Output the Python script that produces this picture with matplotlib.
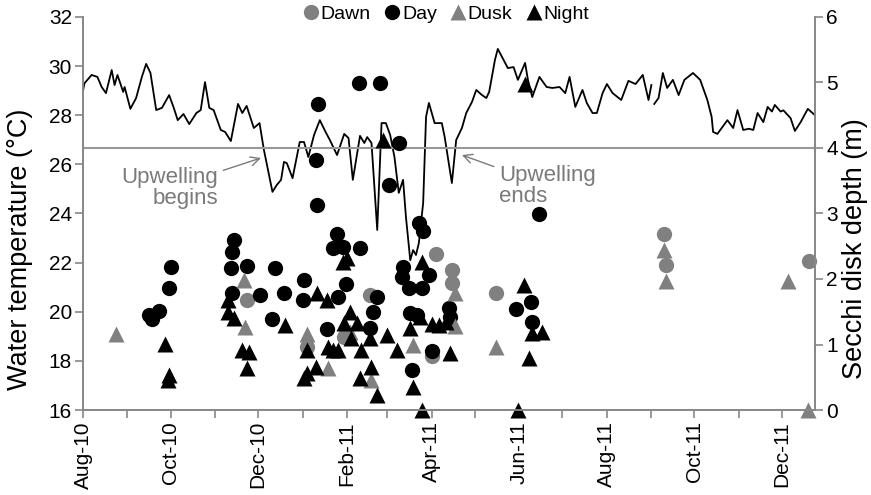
import numpy as np
import pandas as pd
import matplotlib
matplotlib.use("Agg")
import matplotlib.pyplot as plt
import matplotlib.dates as mdates

plt.rcParams['font.family'] = ['Liberation Sans', 'DejaVu Sans']

# daily water temperature, None = gap in record
temp_dates = ['2010-08-01', '2010-08-02', '2010-08-07', '2010-08-11', '2010-08-14', '2010-08-17',
              '2010-08-21', '2010-08-23', '2010-08-25', '2010-08-29', '2010-08-30', '2010-09-03',
              '2010-09-07', '2010-09-11', '2010-09-14', '2010-09-17', '2010-09-21', '2010-09-25',
              '2010-09-30', '2010-10-03', '2010-10-06', '2010-10-10', '2010-10-14', '2010-10-19',
              '2010-10-22', '2010-10-25', '2010-10-28', '2010-10-31', '2010-11-05', '2010-11-08',
              '2010-11-12', '2010-11-17', '2010-11-20', '2010-11-23', '2010-11-28', '2010-12-02',
              '2010-12-05', '2010-12-11', '2010-12-14', '2010-12-17', '2010-12-19', '2010-12-21',
              '2010-12-25', '2010-12-30', '2011-01-02', '2011-01-05', '2011-01-09', '2011-01-13',
              '2011-01-17', '2011-01-20', '2011-01-25', '2011-01-30', '2011-02-02', '2011-02-05',
              '2011-02-10', '2011-02-13', '2011-02-15', '2011-02-18', '2011-02-22', '2011-02-25',
              '2011-02-28', '2011-03-03', '2011-03-06', '2011-03-09', '2011-03-12', '2011-03-14',
              '2011-03-17', '2011-03-19', '2011-03-21', '2011-03-23', '2011-03-26', '2011-03-28',
              '2011-03-30', '2011-04-03', '2011-04-08', '2011-04-10', '2011-04-15', '2011-04-18',
              '2011-04-22', '2011-04-25', '2011-04-29', '2011-05-02', '2011-05-06', '2011-05-09',
              '2011-05-11', '2011-05-15', '2011-05-17', '2011-05-24', '2011-05-28', '2011-05-31',
              '2011-06-05', '2011-06-07', '2011-06-10', '2011-06-15', '2011-06-20', '2011-06-24',
              '2011-06-29', '2011-07-03', '2011-07-06', '2011-07-10', '2011-07-15', '2011-07-18',
              '2011-07-22', '2011-07-25', '2011-07-29', '2011-08-01', '2011-08-05', '2011-08-11',
              '2011-08-16', '2011-08-21', '2011-08-26', '2011-08-30', '2011-09-01', '2011-09-02',
              '2011-09-03', '2011-09-06', '2011-09-09', '2011-09-12', '2011-09-16', '2011-09-20',
              '2011-09-24', '2011-09-30', '2011-10-05', '2011-10-10', '2011-10-13', '2011-10-14',
              '2011-10-17', '2011-10-20', '2011-10-24', '2011-10-28', '2011-10-31', '2011-11-04',
              '2011-11-08', '2011-11-11', '2011-11-14', '2011-11-18', '2011-11-21', '2011-11-24',
              '2011-11-26', '2011-11-30', '2011-12-02', '2011-12-07', '2011-12-10', '2011-12-14',
              '2011-12-19', '2011-12-24']
temp_vals = [29.0, 29.3, 29.64, 29.56, 29.15, 28.9,
             29.84, 29.23, 29.64, 28.95, 29.15, 28.26,
             28.7, 29.56, 30.09, 29.72, 28.21, 28.3,
             28.82, 28.34, 27.8, 28.05, 27.64, 28.09,
             28.21, 29.35, 28.3, 28.21, 27.4, 27.32,
             26.95, 28.46, 28.09, 28.38, 27.48, 27.68,
             26.6, 24.88, 25.16, 25.37, 26.1, 26.05,
             25.44, 26.91, 26.91, 26.3, 27.2, 27.8,
             27.32, 26.99, 26.38, 27.24, 27.07, 25.37,
             27.16, 26.87, 27.11, 26.87, 23.33, 27.68,
             27.68, 27.2, 26.3, 24.84, 25.37, 23.86,
             22.1, 22.51, 22.31, 22.8, 24.43, 27.93,
             28.5, 27.68, 27.68, 27.11, 25.24, 26.99,
             27.48, 28.09, 28.54, 29.03, 28.82, 28.7,
             28.95, 30.25, 30.7, 29.92, 29.96, 29.44,
             30.13, 29.44, 28.74, 29.56, 29.15, 29.11,
             29.15, 28.9, 29.56, 28.34, 29.03, 28.5,
             28.09, 28.09, 28.9, 29.27, 28.9, 28.62,
             29.4, 29.27, 29.64, 28.62, 29.23, None,
             28.46, 28.7, 29.72, 29.11, 29.44, 28.82,
             29.44, 29.72, 29.44, 28.62, 27.93, 27.32,
             27.24, 27.48, 27.8, 27.48, 28.21, 27.4,
             27.45, 27.4, 28.09, 27.72, 28.34, 28.15,
             28.42, 28.15, 28.2, 27.88, 27.36, 27.72,
             28.26, 28.0]

# Secchi disk depth (m) by time of sampling
dawn_dates = ['2010-11-23', '2011-01-04', '2011-01-30', '2011-02-17', '2011-04-01', '2011-04-04',
              '2011-04-15', '2011-04-15', '2011-05-16', '2011-09-10', '2011-09-11', '2011-12-20']
dawn_depth = [1.68, 0.96, 1.11, 1.76, 0.82, 2.38, 2.14, 1.94, 1.79, 2.69, 2.21, 2.27]

day_dates = ['2010-09-16', '2010-09-18', '2010-09-23', '2010-09-30', '2010-10-01',
             '2010-11-14', '2010-11-13', '2010-11-12', '2010-11-23', '2010-11-13',
             '2010-12-02', '2010-12-13', '2010-12-19', '2010-12-11',
             '2011-01-02', '2011-01-01', '2011-01-10', '2011-01-12', '2011-01-11',
             '2011-01-25', '2011-01-22', '2011-01-29', '2011-02-10', '2011-01-26', '2011-01-31',
             '2011-01-18', '2011-02-09', '2011-02-24', '2011-03-09', '2011-03-02',
             '2011-02-19', '2011-02-17', '2011-02-22', '2011-03-12', '2011-03-11', '2011-03-16',
             '2011-03-25', '2011-03-17', '2011-03-22', '2011-03-23', '2011-03-26', '2011-03-30',
             '2011-04-01', '2011-03-18', '2011-04-13', '2011-04-14',
             '2011-06-15', '2011-06-09', '2011-05-30', '2011-06-10']
day_depth = [1.45, 1.39, 1.51, 1.86, 2.18,
             2.60, 2.41, 2.17, 2.20, 1.79,
             1.76, 2.17, 1.79, 1.39,
             1.98, 1.68, 3.82, 4.67, 3.13,
             2.69, 2.47, 2.49, 2.47, 1.73, 1.92,
             1.24, 4.99, 4.99, 4.08, 3.43,
             1.50, 1.25, 1.73, 2.18, 2.03, 1.86,
             1.86, 1.48, 1.45, 2.85, 2.73, 2.06,
             0.90, 0.61, 1.56, 1.42,
             2.99, 1.65, 1.54, 1.34]

dusk_dates = ['2010-08-24', '2010-11-21', '2010-11-22', '2011-01-04', '2011-01-19', '2011-02-03',
              '2011-02-18', '2011-03-19', '2011-04-17', '2011-04-17', '2011-05-16', '2011-09-10',
              '2011-09-11', '2011-12-05', '2011-12-19']
dusk_depth = [1.16, 1.98, 1.27, 1.16, 0.64, 1.19, 0.46, 0.99, 1.79, 1.28, 0.96, 2.44, 1.97, 1.97, 0.0]

night_dates = ['2010-09-27', '2010-09-30', '2010-09-29', '2010-11-10', '2010-11-10', '2010-11-14',
               '2010-11-20', '2010-11-25', '2010-11-23', '2010-12-20', '2011-01-11', '2011-01-18',
               '2011-01-04', '2011-01-02', '2011-01-10', '2011-01-04', '2011-01-19', '2011-01-22',
               '2011-01-26', '2011-01-29', '2011-02-01', '2011-02-03', '2011-01-30', '2011-02-08',
               '2011-02-04', '2011-02-11', '2011-02-17', '2011-02-18', '2011-02-10', '2011-02-22',
               '2011-02-26', '2011-03-01', '2011-03-08', '2011-03-17', '2011-03-24', '2011-03-25',
               '2011-04-01', '2011-04-06', '2011-04-11', '2011-04-14', '2011-03-19', '2011-03-25',
               '2011-06-04', '2011-06-10', '2011-06-17', '2011-06-08', '2011-05-31', '2011-06-05']
night_depth = [1.01, 0.53, 0.46, 1.68, 1.50, 1.40,
               0.92, 0.89, 0.64, 1.30, 1.79, 1.68,
               0.56, 0.49, 0.66, 0.92, 0.96, 0.92,
               0.92, 2.26, 2.32, 1.50, 1.33, 1.33,
               1.10, 0.92, 1.10, 0.66, 0.49, 0.23,
               4.12, 1.15, 0.92, 1.25, 1.42, 2.26,
               1.31, 1.30, 1.34, 0.87, 0.35, 0.0,
               1.91, 1.18, 1.19, 0.79, 0.0, 4.98]

threshold_depth = 4.0
grey = '#888888'
txt_grey = '#7a7a7a'

fig = plt.figure(figsize=(8.71, 4.95), dpi=100)
ax = fig.add_axes([0.0953, 0.1717, 0.8404, 0.794])
ax2 = ax.twinx()

t = pd.to_datetime(temp_dates)
tv = np.array([np.nan if v is None else v for v in temp_vals])
ax.plot(t, tv, color='black', lw=1.3, zorder=3)

ax2.axhline(threshold_depth, color='#999999', lw=1.5, zorder=1)
ms = 11
h1, = ax2.plot(pd.to_datetime(dawn_dates), dawn_depth, 'o', color='#808080', ms=ms, mec='none', clip_on=False, label='Dawn')
h2, = ax2.plot(pd.to_datetime(day_dates), day_depth, 'o', color='black', ms=ms, mec='none', clip_on=False, label='Day')
h3, = ax2.plot(pd.to_datetime(dusk_dates), dusk_depth, '^', color='#808080', ms=ms + 0.5, mec='none', clip_on=False, label='Dusk')
h4, = ax2.plot(pd.to_datetime(night_dates), night_depth, '^', color='black', ms=ms + 0.5, mec='none', clip_on=False, label='Night')

ax.set_xlim(pd.Timestamp('2010-08-01'), pd.Timestamp('2011-12-24'))
ax.set_ylim(16, 32)
ax2.set_ylim(0, 6)
ax.set_yticks(np.arange(16, 33, 2))
ax2.set_yticks(np.arange(0, 7, 1))

ax.xaxis.set_major_locator(mdates.MonthLocator(bymonth=[2, 4, 6, 8, 10, 12]))
ax.xaxis.set_major_formatter(mdates.DateFormatter('%b-%y'))
ax.xaxis.set_minor_locator(mdates.MonthLocator())
for lab in ax.get_xticklabels():
    lab.set_rotation(90)

for a in (ax, ax2):
    for s in a.spines.values():
        s.set_color(grey)
        s.set_linewidth(1.3)
    a.spines['top'].set_visible(False)
    a.tick_params(which='both', color=grey, width=1.2, length=6, labelsize=15, pad=2)

ax.set_ylabel('Water temperature (°C)', fontsize=19.5)
ax2.set_ylabel('Secchi disk depth (m)', fontsize=19.5)
ax.yaxis.set_label_coords(-0.068, 0.41)
ax2.yaxis.set_label_coords(1.037, 0.41)

ax.annotate('Upwelling\nbegins', xy=(pd.Timestamp('2010-12-03'), 26.26),
            xytext=(pd.Timestamp('2010-11-03'), 25.04), ha='right', va='center',
            multialignment='right', color=txt_grey, fontsize=16, linespacing=0.95,
            arrowprops=dict(arrowstyle='->', color=txt_grey, lw=1.0, shrinkA=2, shrinkB=0))
ax.annotate('Upwelling\nends', xy=(pd.Timestamp('2011-04-22'), 26.38),
            xytext=(pd.Timestamp('2011-05-18'), 25.12), ha='left', va='center',
            multialignment='left', color=txt_grey, fontsize=16, linespacing=0.95,
            arrowprops=dict(arrowstyle='->', color=txt_grey, lw=1.0, shrinkA=2, shrinkB=0))

ax2.legend(handles=[h1, h2, h3, h4], loc='center', bbox_to_anchor=(0.495, 1.008),
           ncol=4, frameon=False, fontsize=14, handletextpad=0.0, columnspacing=0.6,
           handlelength=1.0, borderaxespad=0)

fig.savefig('out.png', dpi=100)
